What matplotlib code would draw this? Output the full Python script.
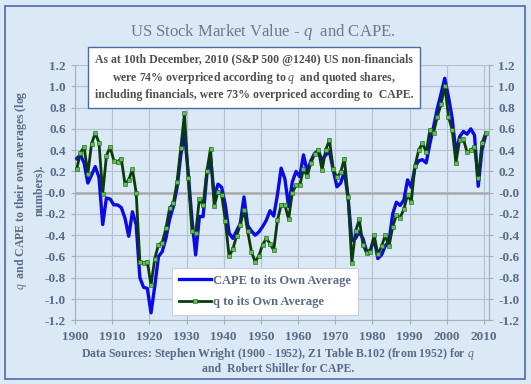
import matplotlib
matplotlib.use('Agg')
import matplotlib.pyplot as plt
import numpy as np
from matplotlib.patches import Rectangle

plt.rcParams['font.family'] = ['Liberation Serif', 'DejaVu Serif']
plt.rcParams['axes.unicode_minus'] = False
plt.rcParams['mathtext.fontset'] = 'custom'
plt.rcParams['mathtext.rm'] = 'Liberation Serif'
plt.rcParams['mathtext.it'] = 'Liberation Serif:italic'
plt.rcParams['mathtext.bf'] = 'Liberation Serif:bold'

# Annual data, 1900 - 2010 (log ratio to own average)
years = np.arange(1900, 2011)

q_values = [
    0.22, 0.375, 0.43, 0.175, 0.46, 0.56, 0.47, -0.01, 0.345, 0.43,       # 1900s
    0.30, 0.29, 0.32, 0.08, 0.12, 0.22, 0.0, -0.65, -0.66, -0.65,         # 1910s
    -0.87, -0.62, -0.49, -0.47, -0.335, -0.145, -0.10, 0.10, 0.42, 0.745,  # 1920s
    0.14, -0.36, -0.38, -0.06, -0.115, 0.20, 0.415, -0.13, 0.01, -0.02,   # 1930s
    -0.27, -0.60, -0.53, -0.41, -0.30, -0.16, -0.365, -0.555, -0.65, -0.595,  # 1940s
    -0.49, -0.43, -0.48, -0.54, -0.26, -0.115, -0.115, -0.25, 0.0, 0.07,  # 1950s
    0.07, 0.22, 0.155, 0.28, 0.365, 0.405, 0.21, 0.405, 0.495, 0.22,      # 1960s
    0.145, 0.19, 0.32, -0.04, -0.66, -0.365, -0.25, -0.49, -0.57, -0.56,  # 1970s
    -0.40, -0.58, -0.505, -0.40, -0.505, -0.32, -0.21, -0.235, -0.155, -0.02,  # 1980s
    -0.085, 0.255, 0.40, 0.465, 0.38, 0.59, 0.565, 0.715, 0.83, 1.005,    # 1990s
    0.715, 0.59, 0.28, 0.495, 0.505, 0.38, 0.40, 0.43, 0.135, 0.465,      # 2000s
    0.56,                                                                 # 2010
]

cape_values = [
    0.32, 0.355, 0.28, 0.09, 0.165, 0.245, 0.145, -0.30, -0.05, -0.06,    # 1900s
    -0.115, -0.115, -0.14, -0.24, -0.41, -0.18, -0.30, -0.80, -0.89, -0.90,  # 1910s
    -1.13, -0.88, -0.60, -0.555, -0.43, -0.25, -0.13, 0.05, 0.35, 0.57,   # 1920s
    0.18, -0.25, -0.585, -0.225, -0.225, 0.165, 0.33, -0.04, 0.08, 0.05,  # 1930s
    -0.12, -0.38, -0.43, -0.36, -0.29, -0.04, -0.31, -0.36, -0.40, -0.37,  # 1940s
    -0.32, -0.26, -0.17, -0.22, -0.02, 0.23, 0.13, -0.13, 0.10, 0.20,     # 1950s
    0.15, 0.355, 0.20, 0.30, 0.37, 0.39, 0.305, 0.355, 0.385, 0.215,      # 1960s
    0.055, 0.09, 0.20, -0.05, -0.45, -0.43, -0.37, -0.43, -0.555, -0.54,  # 1970s
    -0.43, -0.62, -0.585, -0.50, -0.46, -0.20, -0.09, -0.12, -0.07, 0.12,  # 1980s
    0.05, 0.24, 0.30, 0.31, 0.28, 0.46, 0.62, 0.79, 0.93, 1.075,          # 1990s
    0.90, 0.70, 0.37, 0.525, 0.575, 0.55, 0.60, 0.54, 0.06, 0.40,         # 2000s
    0.54,                                                                 # 2010
]

decades = np.arange(1900, 2011, 10)

bg = '#dbe8f6'
txt = '#5b6a87'
grid_col = '#b4c0d2'

fig = plt.figure(figsize=(5.31, 3.84), dpi=100, facecolor=bg)

# outer border
fig.patches.append(Rectangle((5 / 531, 5 / 384), 520 / 531, 373 / 384, transform=fig.transFigure,
                             fill=False, edgecolor='#4a6aa8', linewidth=1.2))

ax = fig.add_axes([75 / 531, 1 - 320.3 / 384, 414 / 531, 255.3 / 384])
ax.set_facecolor(bg)

x = years + 0.45
ax.plot(x, cape_values, color='#0a0ae6', linewidth=2.4, label='CAPE to its Own Average', zorder=3)
ax.plot(x, q_values, color='#0b3a0b', linewidth=2.0, marker='s', markersize=2.6,
        markerfacecolor='#5cc24c', markeredgecolor='#1d5a1d', markeredgewidth=0.4,
        label='q to its Own Average', zorder=4)

ax.set_xlim(1900, 2011.35)
ax.set_ylim(-1.2, 1.2)
ax.set_xticks(decades)
ax.set_xticklabels([str(d) for d in decades])
ax.set_yticks(np.arange(-1.2, 1.21, 0.2))
ax.set_yticklabels(['%.1f' % v for v in np.arange(-1.2, 1.21, 0.2)])
ax.grid(True, color=grid_col, linewidth=0.8)
ax.axhline(0, color='#a9a9ad', linewidth=1.8, zorder=2)
ax.set_axisbelow(True)

ax.spines['top'].set_visible(False)
for s in ['left', 'right', 'bottom']:
    ax.spines[s].set_color('#a6aebb')
ax.tick_params(axis='both', colors='#a6aebb', labelcolor=txt, length=3, width=0.8, labelsize=9.5)
for lab in ax.get_xticklabels() + ax.get_yticklabels():
    lab.set_fontweight('bold')
ax.tick_params(axis='x', pad=5)

ax2 = ax.twinx()
ax2.set_ylim(-1.2, 1.2)
ax2.set_yticks(np.arange(-1.2, 1.21, 0.2))
ax2.set_yticklabels(['%.1f' % v for v in np.arange(-1.2, 1.21, 0.2)])
ax2.tick_params(axis='y', colors='#a6aebb', labelcolor=txt, length=3, width=0.8, labelsize=9.5)
for lab in ax2.get_yticklabels():
    lab.set_fontweight('bold')
for s in ['top', 'left', 'bottom']:
    ax2.spines[s].set_visible(False)
ax2.spines['right'].set_color('#a6aebb')

# legend
leg = ax.legend(loc='lower left', bbox_to_anchor=(172 / 531, 1 - 315 / 384), bbox_transform=fig.transFigure,
                frameon=True, fancybox=False, framealpha=1, edgecolor='#c4d0e2',
                prop={'weight': 'bold', 'size': 9}, labelcolor=txt, handlelength=2.6,
                handletextpad=0.15, borderpad=0.55, labelspacing=0.75, borderaxespad=0)
leg.get_frame().set_linewidth(0.8)

# title
fig.text(263 / 531, 1 - 32 / 384, r'US Stock Market Value - $\mathbf{\mathit{q}}$  and CAPE.',
         ha='center', va='center', fontsize=12, color='#6b7890')

# annotation box
box_text = ('As at 10th December, 2010 (S&P 500 @1240) US non-financials\n'
            r'were 74% overpriced according to $\mathit{q}$  and quoted shares,' '\n'
            'including financials, were 73% overpriced according to  CAPE.')
fig.text(254 / 531, 1 - 77.5 / 384, box_text, ha='center', va='center', fontsize=8.5,
         fontweight='bold', color='#4d4d55', linespacing=1.35,
         bbox=dict(boxstyle='square,pad=0.6', facecolor='white', edgecolor='#4a6aa8', linewidth=1.0))

# y axis label
fig.text(29 / 531, 1 - 190 / 384, r'$\mathit{q}$  and CAPE to their own averages (log' '\n' 'numbers).',
         ha='center', va='center', rotation=90, fontsize=8.5, fontweight='bold', color=txt,
         linespacing=1.5)

# sources
fig.text(278 / 531, 1 - 353.5 / 384,
         r'Data Sources: Stephen Wright (1900 - 1952), Z1 Table B.102 (from 1952) for $\mathit{q}$',
         ha='center', va='center', fontsize=8.5, fontweight='bold', color=txt)
fig.text(278 / 531, 1 - 369.5 / 384, 'and  Robert Shiller for CAPE.',
         ha='center', va='center', fontsize=8.5, fontweight='bold', color=txt)

fig.savefig('out.png', dpi=100, facecolor=bg)
